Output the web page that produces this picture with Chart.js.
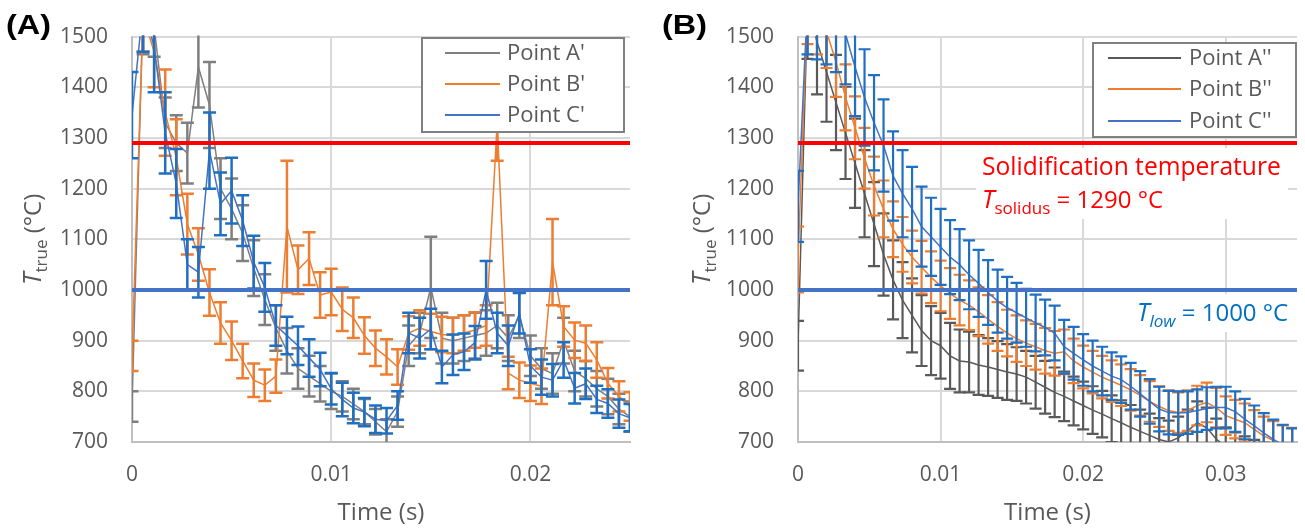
<!DOCTYPE html>
<html><head><meta charset="utf-8">
<script src="https://cdn.jsdelivr.net/npm/chart.js@4.4.1/dist/chart.umd.min.js"></script>
<style>
html,body{margin:0;padding:0;background:#fff;}
#wrap{position:relative;width:1305px;height:528px;overflow:hidden;}
#ca{position:absolute;left:0;top:0;}
#cb{position:absolute;left:650px;top:0;}
</style></head><body>
<div id="wrap"><canvas id="ca" width="650" height="528"></canvas><canvas id="cb" width="655" height="528"></canvas></div>
<script>
// ---------- DATA ----------
const yTicks = [700, 800, 900, 1000, 1100, 1200, 1300, 1400, 1500];
const xTicksA = [0, 0.01, 0.02];
const xTickLabelsA = ['0', '0.01', '0.02'];
const xTicksB = [0, 0.01, 0.02, 0.03];
const xTickLabelsB = ['0', '0.01', '0.02', '0.03'];
const namesA = ["Point A'", "Point B'", "Point C'"];
const namesB = ["Point A''", "Point B''", "Point C''"];
const tSolidus = 1290;
const tLow = 1000;

// Panel (A): time (s)
const timeA = [0, 0.000556, 0.001111, 0.001667, 0.002222, 0.002778, 0.003333, 0.003889, 0.004444, 0.005,
  0.005556, 0.006111, 0.006667, 0.007222, 0.007778, 0.008333, 0.008889, 0.009444, 0.01, 0.010556,
  0.011111, 0.011667, 0.012222, 0.012778, 0.013333, 0.013889, 0.014444, 0.015, 0.015556, 0.016111,
  0.016667, 0.017222, 0.017778, 0.018333, 0.018889, 0.019444, 0.02, 0.020556, 0.021111, 0.021667,
  0.022222, 0.022778, 0.023333, 0.023889, 0.024444, 0.025];
const aPrime = [770, 1560, 1520, 1330, 1290, 1270, 1440, 1365, 1200, 1160,
  1112, 1043, 981, 925, 880, 845, 830, 815, 800, 790,
  775, 760, 740, 720, 760, 890, 915, 1005, 905, 900,
  905, 910, 915, 930, 905, 950, 870, 845, 835, 900,
  840, 825, 805, 790, 765, 750];
const aPrimeErr = [30, 95, 60, 50, 55, 60, 80, 85, 60, 60,
  55, 55, 50, 45, 45, 40, 40, 35, 35, 30,
  30, 25, 25, 25, 30, 40, 40, 100, 50, 45,
  45, 45, 45, 45, 45, 45, 40, 40, 40, 45,
  40, 35, 35, 35, 30, 30];
const bPrime = [870, 1540, 1470, 1350, 1262, 1130, 1070, 995, 935, 900,
  860, 822, 812, 830, 1125, 1040, 1062, 990, 996, 962,
  945, 910, 885, 868, 848, 915, 925, 918, 912, 910,
  915, 921, 930, 1330, 836, 822, 816, 810, 1055, 928,
  901, 895, 862, 816, 790, 770];
const bPrimeErr = [30, 70, 70, 85, 75, 60, 52, 46, 41, 38,
  34, 33, 31, 33, 130, 48, 52, 45, 46, 43,
  40, 36, 35, 35, 35, 33, 35, 35, 35, 35,
  35, 35, 40, 75, 32, 35, 35, 35, 85, 40,
  35, 35, 35, 30, 30, 28];
const cPrime = [1345, 1560, 1480, 1310, 1210, 1050, 1035, 1275, 1170, 1196,
  1137, 1055, 1005, 930, 910, 890, 866, 843, 805, 784,
  767, 759, 745, 742, 772, 915, 905, 923, 848, 872,
  878, 896, 1000, 915, 890, 954, 850, 828, 822, 862,
  806, 815, 784, 776, 756, 748];
const cPrimeErr = [85, 90, 90, 80, 68, 50, 50, 75, 62, 65,
  50, 52, 48, 40, 37, 38, 37, 33, 31, 33,
  30, 28, 27, 25, 28, 40, 40, 40, 32, 40,
  36, 33, 57, 40, 40, 40, 33, 35, 32, 35,
  30, 30, 27, 28, 28, 27];

// Panel (B): time (s)
const timeB = [0, 0.000667, 0.001333, 0.002, 0.002667, 0.003333, 0.004, 0.004667, 0.005333, 0.006,
  0.006667, 0.007333, 0.008, 0.008667, 0.009333, 0.01, 0.010667, 0.011333, 0.012, 0.012667,
  0.013333, 0.014, 0.014667, 0.015333, 0.016, 0.016667, 0.017333, 0.018, 0.018667, 0.019333,
  0.02, 0.020667, 0.021333, 0.022, 0.022667, 0.023333, 0.024, 0.024667, 0.025333, 0.026,
  0.026667, 0.027333, 0.028, 0.028667, 0.029333, 0.03, 0.030667, 0.031333, 0.032, 0.032667,
  0.033333, 0.034, 0.034667];
const aDbl = [890, 1560, 1490, 1430, 1370, 1310, 1250, 1190, 1130, 1070,
  1020, 980, 950, 920, 900, 890, 870, 860, 858, 852,
  848, 843, 838, 834, 828, 818, 808, 798, 790, 781,
  772, 763, 755, 746, 738, 729, 721, 713, 705, 700,
  708, 722, 738, 728, 706, 690, 680, 672, 665, 660,
  655, 650, 645];
const aDblErr = [49, 104, 104, 98, 94, 91, 88, 86, 83, 81,
  78, 75, 73, 70, 68, 65, 65, 62, 60, 59,
  57, 56, 55, 53, 52, 52, 52, 49, 49, 48,
  47, 47, 46, 46, 44, 44, 43, 43, 42, 42,
  42, 42, 42, 40, 40, 39, 39, 39, 39, 39,
  39, 39, 39];
const bDbl = [1060, 1560, 1540, 1510, 1450, 1380, 1320, 1260, 1205, 1160,
  1120, 1090, 1065, 1045, 1025, 1008, 993, 980, 970, 957,
  942, 928, 915, 904, 895, 888, 880, 875, 878, 860,
  848, 838, 828, 820, 812, 803, 792, 780, 770, 762,
  758, 762, 772, 778, 768, 752, 745, 738, 725, 712,
  703, 695, 690];
const bDblErr = [65, 75, 75, 72, 69, 65, 62, 60, 58, 56,
  55, 54, 52, 52, 51, 50, 50, 50, 49, 48,
  48, 48, 46, 46, 45, 45, 45, 44, 44, 44,
  42, 42, 42, 41, 41, 41, 40, 40, 40, 40,
  40, 40, 39, 39, 39, 38, 38, 38, 38, 38,
  38, 38, 38];
const cDbl = [1165, 1570, 1560, 1550, 1530, 1505, 1440, 1380, 1330, 1285,
  1225, 1190, 1160, 1125, 1105, 1085, 1065, 1050, 1030, 1013,
  995, 978, 965, 955, 945, 935, 926, 915, 888, 875,
  862, 850, 840, 830, 823, 810, 795, 780, 765, 758,
  757, 758, 762, 766, 768, 768, 760, 745, 732, 718,
  705, 695, 688];
const cDblErr = [70, 105, 105, 105, 100, 99, 97, 95, 94, 91,
  88, 86, 83, 79, 77, 75, 73, 70, 68, 66,
  64, 62, 61, 59, 57, 56, 55, 54, 53, 52,
  51, 50, 48, 47, 46, 46, 45, 44, 44, 43,
  43, 42, 42, 42, 41, 41, 40, 40, 40, 39,
  39, 39, 39];

// ---------- PLUGINS ----------
const FONT = "'Open Sans', 'DejaVu Sans', sans-serif";

const errorBars = {
  id: 'errorBars',
  afterDatasetDraw(chart, args) {
    const ds = chart.data.datasets[args.index];
    if (!ds.err) return;
    const xs = chart.scales.x, ys = chart.scales.y, ctx = chart.ctx, a = chart.chartArea;
    ctx.save();
    ctx.beginPath(); ctx.rect(a.left, a.top - 1, a.right - a.left, a.bottom - a.top + 1); ctx.clip();
    ctx.strokeStyle = ds.errColor; ctx.lineWidth = ds.errWidth;
    const cw = ds.capHalf;
    ds.data.forEach((p, i) => {
      const e = ds.err[i];
      const x = xs.getPixelForValue(p.x);
      const y1 = ys.getPixelForValue(p.y + e), y2 = ys.getPixelForValue(p.y - e);
      ctx.beginPath();
      ctx.moveTo(x, y1); ctx.lineTo(x, y2);
      ctx.moveTo(x - cw, y1); ctx.lineTo(x + cw, y1);
      ctx.moveTo(x - cw, y2); ctx.lineTo(x + cw, y2);
      ctx.stroke();
    });
    ctx.restore();
  }
};

function drawParts(ctx, parts, x, y) {
  let cx = x;
  parts.forEach(p => {
    ctx.font = p.font;
    ctx.fillText(p.t, cx, y + (p.dy || 0));
    cx += ctx.measureText(p.t).width;
  });
  return cx - x;
}
function partsWidth(ctx, parts) {
  let w = 0;
  parts.forEach(p => { ctx.font = p.font; w += ctx.measureText(p.t).width; });
  return w;
}

const overlay = {
  id: 'overlay',
  afterDatasetsDraw(chart) {
    const d = chart.options.plugins.deco, ctx = chart.ctx, a = chart.chartArea, ys = chart.scales.y;
    ctx.save();
    d.lines.forEach(l => {
      const y = ys.getPixelForValue(l.v);
      ctx.strokeStyle = l.color; ctx.lineWidth = 4;
      ctx.beginPath(); ctx.moveTo(a.left, y); ctx.lineTo(a.right, y); ctx.stroke();
    });
    ctx.restore();
  },
  afterDraw(chart) {
    const d = chart.options.plugins.deco, ctx = chart.ctx, a = chart.chartArea;
    ctx.save();
    ctx.textBaseline = 'alphabetic';
    // panel letter
    ctx.fillStyle = '#000';
    ctx.save(); ctx.translate(d.letter.x, d.letter.y); ctx.scale(1.2, 1);
    ctx.font = "bold 27px 'Liberation Sans', Arial, sans-serif";
    ctx.fillText(d.letter.t, 0, 0); ctx.restore();
    // x title
    ctx.fillStyle = '#595959'; ctx.font = '24px ' + FONT; ctx.textAlign = 'center';
    ctx.fillText('Time (s)', (a.left + a.right) / 2, 520);
    ctx.textAlign = 'left';
    // y title
    const yp = [
      { t: 'T', font: 'italic 25px ' + FONT },
      { t: 'true', font: '17px ' + FONT, dy: 6 },
      { t: ' (°C)', font: '24px ' + FONT }
    ];
    ctx.save(); ctx.translate(d.yTitleX, (a.top + a.bottom) / 2); ctx.rotate(-Math.PI / 2);
    const w = partsWidth(ctx, yp);
    drawParts(ctx, yp, -w / 2, 0);
    ctx.restore();
    // annotations
    (d.notes || []).forEach(n => {
      ctx.fillStyle = '#fff'; ctx.fillRect(n.box[0], n.box[1], n.box[2], n.box[3]);
      ctx.fillStyle = n.color;
      n.rows.forEach(r => drawParts(ctx, r.parts, n.x, r.y));
    });
    // legend
    const L = d.legend;
    ctx.fillStyle = '#fff'; ctx.fillRect(L.x, L.y, L.w, L.h);
    ctx.strokeStyle = '#808080'; ctx.lineWidth = 2; ctx.strokeRect(L.x, L.y, L.w, L.h);
    ctx.font = '22px ' + FONT; ctx.textBaseline = 'middle';
    chart.data.datasets.forEach((ds, i) => {
      const y = L.rows[i];
      ctx.strokeStyle = ds.borderColor; ctx.lineWidth = 2;
      ctx.beginPath(); ctx.moveTo(L.lx1, y); ctx.lineTo(L.lx2, y); ctx.stroke();
      ctx.fillStyle = '#595959'; ctx.fillText(ds.label, L.tx, y + 1);
    });
    ctx.restore();
  }
};

function pts(times, vals) { return times.map((t, i) => ({ x: t, y: vals[i] })); }

function makeChart(id, cfg) {
  return new Chart(document.getElementById(id), {
    type: 'scatter',
    data: {
      datasets: cfg.series.map((s, k) => ({
        label: s.name, data: pts(cfg.times, s.vals), err: s.err,
        errColor: s.errColor, errWidth: cfg.errWidth, capHalf: cfg.capHalf,
        borderColor: s.color, backgroundColor: s.color, borderWidth: 1.5,
        showLine: true, pointRadius: 0, pointHoverRadius: 0, tension: 0, order: 3 - k
      }))
    },
    options: {
      responsive: false, animation: false, events: [],
      layout: { padding: { left: 0, right: cfg.padRight, top: 36, bottom: 0 } },
      plugins: { legend: { display: false }, tooltip: { enabled: false }, deco: cfg.deco },
      scales: {
        x: {
          type: 'linear', min: 0, max: cfg.xmax,
          afterBuildTicks: s => { s.ticks = cfg.xTicks.map(v => ({ value: v })); },
          afterFit: s => { s.height = 86; },
          ticks: { callback: (v, i) => cfg.xLabels[i], padding: 20, color: '#595959',
                   font: { family: FONT, size: 21 }, maxRotation: 0, autoSkip: false },
          grid: { color: '#d9d9d9', lineWidth: 2, drawTicks: false },
          border: { color: '#bfbfbf', width: 2 }
        },
        y: {
          type: 'linear', min: 700, max: 1500,
          afterBuildTicks: s => { s.ticks = yTicks.map(v => ({ value: v })); },
          afterFit: s => { s.width = cfg.yWidth; },
          ticks: { callback: (v, i) => String(yTicks[i]), padding: 24, color: '#595959',
                   font: { family: FONT, size: 21 } },
          grid: { color: '#d9d9d9', lineWidth: 2, drawTicks: false },
          border: { color: '#bfbfbf', width: 2 }
        }
      }
    },
    plugins: [errorBars, overlay]
  });
}

const GRAY = '#7f7f7f', DGRAY = '#595959', ORANGE = '#ed7d31', BLUE = '#4472c4', BLUEBAR = '#1f6fc2';

makeChart('ca', {
  times: timeA, xmax: 0.025, xTicks: xTicksA, xLabels: xTickLabelsA, yWidth: 132, padRight: 20,
  capHalf: 6.5, errWidth: 2.5,
  series: [
    { name: namesA[0], vals: aPrime, err: aPrimeErr, color: GRAY, errColor: GRAY },
    { name: namesA[1], vals: bPrime, err: bPrimeErr, color: ORANGE, errColor: ORANGE },
    { name: namesA[2], vals: cPrime, err: cPrimeErr, color: BLUE, errColor: BLUEBAR }
  ],
  deco: {
    letter: { t: '(A)', x: 6, y: 34 },
    yTitleX: 41,
    lines: [{ v: tSolidus, color: '#ff0000' }, { v: tLow, color: BLUE }],
    legend: { x: 422, y: 38, w: 202, h: 94, lx1: 445, lx2: 500, tx: 507, rows: [53, 84, 115] },
    notes: []
  }
});

makeChart('cb', {
  times: timeB, xmax: 0.035, xTicks: xTicksB, xLabels: xTickLabelsB, yWidth: 148, padRight: 8,
  capHalf: 6, errWidth: 2.2,
  series: [
    { name: namesB[0], vals: aDbl, err: aDblErr, color: DGRAY, errColor: DGRAY },
    { name: namesB[1], vals: bDbl, err: bDblErr, color: ORANGE, errColor: ORANGE },
    { name: namesB[2], vals: cDbl, err: cDblErr, color: BLUE, errColor: BLUEBAR }
  ],
  deco: {
    letter: { t: '(B)', x: 12, y: 34 },
    yTitleX: 60,
    lines: [{ v: tSolidus, color: '#ff0000' }, { v: tLow, color: BLUE }],
    legend: { x: 443, y: 43, w: 203, h: 94, lx1: 458, lx2: 531, tx: 539, rows: [58, 89, 121] },
    notes: [
      { box: [326, 148, 312, 71], color: '#ff0000', x: 332, rows: [
        { y: 175, parts: [{ t: 'Solidification temperature', font: '24.6px ' + FONT }] },
        { y: 208, parts: [{ t: 'T', font: 'italic 25px ' + FONT }, { t: 'solidus', font: '17px ' + FONT, dy: 6 },
                          { t: ' = ' + tSolidus + ' °C', font: '24px ' + FONT }] }
      ] },
      { box: [481, 294, 165, 38], color: '#0070c0', x: 487, rows: [
        { y: 321, parts: [{ t: 'T', font: 'italic 25px ' + FONT }, { t: 'low', font: 'italic 17px ' + FONT, dy: 6 },
                          { t: ' = ' + tLow + ' °C', font: '24px ' + FONT }] }
      ] }
    ]
  }
});
</script>
</body></html>
